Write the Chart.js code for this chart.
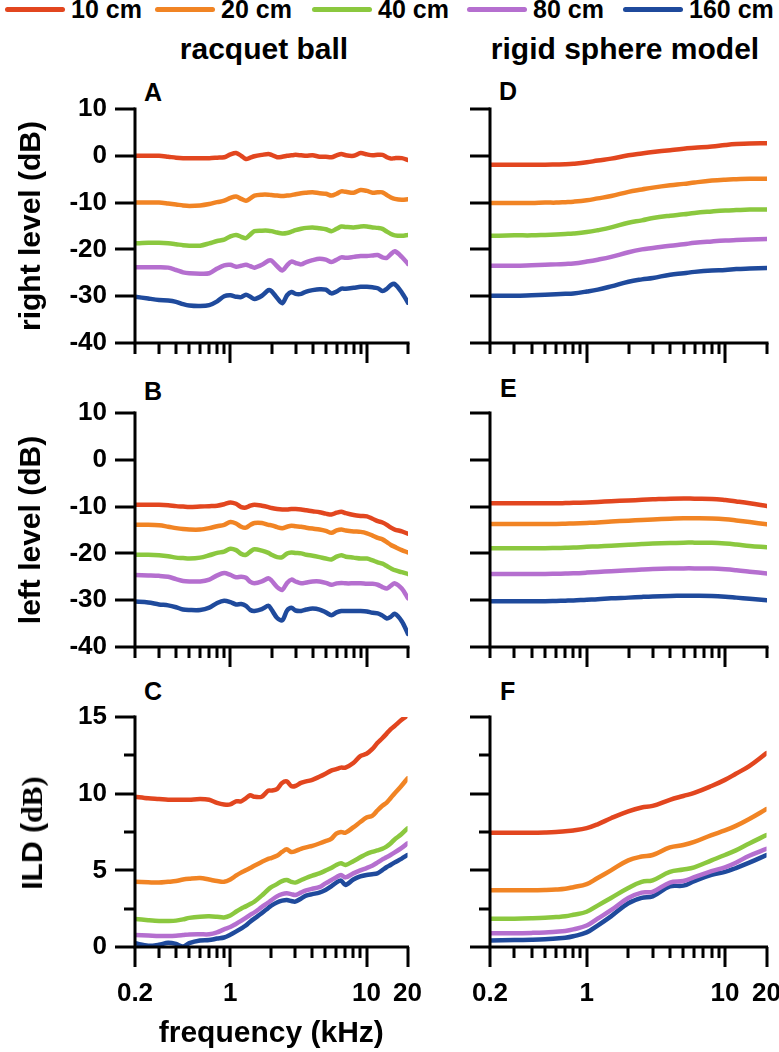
<!DOCTYPE html>
<html>
<head>
<meta charset="utf-8">
<title>Racquet ball vs rigid sphere model</title>
<script src="https://cdn.jsdelivr.net/npm/chart.js@4.4.0/dist/chart.umd.min.js"></script>
<style>
  body { margin: 0; background: #fff; }
  #page {
    position: relative; width: 779px; height: 1052px; overflow: hidden;
    font-family: "Liberation Sans", Arial, sans-serif; font-weight: bold; color: #000;
  }
  #page canvas { position: absolute; }
  .txt { position: absolute; white-space: nowrap; line-height: 1; }
  .col-title { font-size: 30px; text-align: center; top: 34px; }
  .panel-letter { font-size: 25px; }
  .legend-item { position: absolute; top: -3px; display: flex; align-items: center; font-size: 25px; line-height: 1; white-space: nowrap; }
  .legend-line { width: 60px; height: 5px; border-radius: 3px; margin-right: 6px; }
  .ild-title { font-size: 30px; transform: translate(-50%, -50%) rotate(-90deg); }
  .ild-title .serif { font-family: "Liberation Serif", "Times New Roman", serif; }
</style>
</head>
<body>
<div id="page">
  <div id="legend"></div>
  <div class="txt col-title" style="left:164px; width:200px;">racquet ball</div>
  <div class="txt col-title" style="left:475px; width:300px;">rigid sphere model</div>

  <div class="txt panel-letter" style="left:144px; top:80px;">A</div>
  <div class="txt panel-letter" style="left:499px; top:79px;">D</div>
  <div class="txt panel-letter" style="left:144px; top:379px;">B</div>
  <div class="txt panel-letter" style="left:500px; top:376px;">E</div>
  <div class="txt panel-letter" style="left:144px; top:679px;">C</div>
  <div class="txt panel-letter" style="left:500px; top:679px;">F</div>

  <canvas id="chartA" width="422" height="281" style="left:0; top:89px;"></canvas>
  <canvas id="chartD" width="351" height="281" style="left:430px; top:89px;"></canvas>
  <canvas id="chartB" width="422" height="281" style="left:0; top:393px;"></canvas>
  <canvas id="chartE" width="351" height="281" style="left:430px; top:393px;"></canvas>
  <canvas id="chartC" width="422" height="355" style="left:0; top:697px;"></canvas>
  <canvas id="chartF" width="351" height="355" style="left:430px; top:697px;"></canvas>

  <!-- ILD title uses a serif "dB" like the source figure -->
  <div class="txt ild-title" style="left:32px; top:833px;">ILD (<span class="serif">dB)</span></div>
</div>

<script>
/* ============================================
   DATA
   ============================================ */

// Series (source distance)
const seriesNames  = ['10 cm', '20 cm', '40 cm', '80 cm', '160 cm'];
const seriesColors = ['#E2461F', '#F18424', '#8BC83F', '#B56FCF', '#1F4A9C'];

// Frequencies (kHz) for measured and model curves
const rbFreq = [0.2, 0.25, 0.3, 0.35, 0.4, 0.45, 0.5, 0.6, 0.7, 0.8, 0.9, 1, 1.1, 1.2, 1.3, 1.4, 1.5, 1.7, 1.9, 2,
                2.2, 2.4, 2.6, 2.8, 3, 3.3, 3.6, 4, 4.5, 5, 5.5, 6, 6.5, 7, 8, 9, 10, 11, 12, 13, 14, 15, 16, 18, 20];
const smFreq = [0.2, 0.3, 0.4, 0.5, 0.6, 0.7, 0.8, 1, 1.2, 1.5, 2, 2.5, 3, 4, 5, 6, 8, 10, 12, 15, 20];

// Tick values
const freqTicks      = [0.2, 0.3, 0.4, 0.5, 0.6, 0.7, 0.8, 0.9, 1, 2, 3, 4, 5, 6, 7, 8, 9, 10, 20];
const freqTickLabels = [0.2, 1, 10, 20];
const levelTicks     = [-40, -30, -20, -10, 0, 10];
const ildTicks       = [0, 2.5, 5, 7.5, 10, 12.5, 15];
const ildTickLabels  = [0, 5, 10, 15];

// A: racquet ball, right level (dB)
const rightRb10  = [0, 0, 0, -0.2, -0.4, -0.5, -0.5, -0.5, -0.5, -0.4, -0.3, 0.3, 0.6, 0.0, -0.7, -0.4, -0.1, 0.2, 0.4, 0.2, -0.3, -0.2, 0.0, 0.1, 0.2, 0.1, 0.0, 0.1, -0.2, -0.2, -0.3, 0.1, 0.4, 0.1, 0.0, 0.6, 0.3, 0.1, 0.2, 0.2, -0.3, -0.6, -0.5, -0.5, -0.9];
const rightRb20  = [-10, -10, -10, -10.2, -10.4, -10.6, -10.7, -10.6, -10.3, -9.9, -9.6, -9.0, -8.7, -9.2, -9.6, -9.1, -8.5, -8.3, -8.3, -8.4, -8.5, -8.6, -8.5, -8.4, -8.2, -8.0, -7.9, -7.8, -8.0, -8.1, -8.5, -8.1, -7.6, -7.7, -7.9, -7.3, -7.5, -7.9, -7.8, -7.8, -8.4, -8.9, -9.2, -9.4, -9.3];
const rightRb40  = [-18.7, -18.6, -18.6, -18.7, -18.9, -19.1, -19.2, -19.2, -18.7, -18.2, -17.9, -17.2, -16.9, -17.3, -17.6, -16.8, -16.1, -16.0, -16.0, -16.1, -16.4, -16.6, -16.5, -16.2, -15.9, -15.6, -15.4, -15.3, -15.5, -15.7, -16.1, -15.6, -15.1, -15.2, -15.3, -15.1, -15.1, -15.3, -15.4, -15.6, -16.2, -16.7, -17.0, -17.1, -16.9];
const rightRb80  = [-23.8, -23.8, -23.8, -23.9, -24.4, -24.9, -25.1, -25.2, -25.1, -24.1, -23.4, -23.3, -23.7, -23.5, -23.3, -23.6, -23.9, -23.3, -22.4, -22.4, -23.6, -24.5, -23.4, -22.6, -22.9, -23.2, -22.7, -22.3, -22.0, -22.2, -22.7, -22.2, -21.7, -21.8, -21.6, -21.4, -21.4, -21.3, -21.2, -21.7, -21.8, -21.0, -20.4, -21.6, -23.1];
const rightRb160 = [-30.1, -30.5, -30.8, -30.9, -31.2, -31.7, -32.0, -32.1, -31.9, -31.1, -30.0, -29.8, -30.1, -30.2, -29.7, -30.1, -30.6, -29.9, -28.7, -28.9, -30.4, -31.5, -29.8, -29.1, -29.5, -29.5, -29.0, -28.7, -28.5, -28.6, -29.4, -29.0, -28.4, -28.4, -28.2, -28.0, -28.0, -28.1, -28.3, -28.9, -28.4, -27.6, -27.4, -29.2, -31.4];

// B: racquet ball, left level (dB)
const leftRb10  = [-9.6, -9.6, -9.6, -9.7, -9.9, -10.0, -10.1, -10.0, -9.9, -9.8, -9.5, -9.1, -9.4, -10.1, -10.2, -9.8, -9.6, -9.8, -10.1, -10.3, -10.5, -10.6, -10.6, -10.5, -10.5, -10.6, -10.8, -11.0, -11.2, -11.5, -11.7, -11.3, -11.1, -11.4, -11.8, -12.0, -12.1, -12.6, -13.1, -13.4, -13.9, -14.5, -14.9, -15.3, -15.8];
const leftRb20  = [-13.9, -13.9, -14.0, -14.3, -14.6, -14.8, -14.9, -14.9, -14.6, -14.2, -13.9, -13.3, -13.6, -14.3, -14.5, -13.9, -13.5, -13.5, -13.9, -14.0, -14.4, -14.6, -14.3, -14.1, -14.2, -14.3, -14.5, -14.7, -14.9, -15.2, -15.6, -15.1, -14.9, -15.1, -15.3, -15.4, -15.7, -16.2, -16.7, -17.0, -17.6, -18.2, -18.6, -19.3, -19.8];
const leftRb40  = [-20.3, -20.3, -20.4, -20.6, -20.9, -21.0, -21.1, -20.9, -20.4, -19.9, -19.6, -19.0, -19.3, -20.1, -20.3, -19.6, -19.1, -19.4, -19.9, -20.3, -20.8, -20.8, -20.0, -19.8, -19.9, -20.0, -20.3, -20.5, -20.8, -21.1, -21.3, -20.7, -20.4, -20.7, -20.9, -21.1, -21.1, -21.5, -21.9, -22.2, -22.7, -23.2, -23.6, -24.0, -24.4];
const leftRb80  = [-24.6, -24.7, -24.8, -25.0, -25.5, -25.9, -26.0, -26.0, -25.6, -24.7, -24.2, -24.6, -25.1, -25.0, -25.2, -26.1, -26.4, -26.0, -25.3, -25.8, -27.2, -27.8, -26.3, -25.6, -26.0, -26.4, -26.2, -26.0, -26.0, -26.3, -26.7, -26.4, -26.3, -26.4, -26.4, -26.4, -26.5, -26.5, -26.7, -27.2, -27.5, -26.9, -26.4, -27.5, -29.6];
const leftRb160 = [-30.3, -30.5, -30.9, -31.1, -31.5, -32.0, -32.1, -32.1, -31.6, -30.6, -30.1, -30.4, -30.9, -30.8, -31.2, -32.1, -32.3, -31.9, -31.2, -32.0, -33.8, -34.3, -32.2, -31.6, -32.2, -32.3, -32.0, -31.8, -32.0, -32.6, -33.2, -32.6, -32.3, -32.3, -32.3, -32.3, -32.4, -32.7, -32.8, -33.3, -33.9, -33.5, -32.9, -34.5, -37.2];

// C: racquet ball, ILD (dB)
const ildRb10  = [9.8, 9.7, 9.65, 9.6, 9.6, 9.6, 9.6, 9.65, 9.6, 9.4, 9.3, 9.3, 9.5, 9.5, 9.7, 9.9, 9.8, 9.8, 10.2, 10.2, 10.3, 10.7, 10.8, 10.5, 10.5, 10.7, 10.8, 10.9, 11.1, 11.3, 11.5, 11.6, 11.7, 11.7, 12.0, 12.45, 12.6, 12.9, 13.3, 13.6, 13.9, 14.2, 14.4, 14.8, 15.1];
const ildRb20  = [4.25, 4.22, 4.2, 4.25, 4.3, 4.4, 4.45, 4.5, 4.4, 4.3, 4.25, 4.4, 4.65, 4.85, 5.0, 5.15, 5.3, 5.55, 5.75, 5.8, 5.95, 6.2, 6.37, 6.2, 6.25, 6.4, 6.5, 6.6, 6.75, 6.9, 7.05, 7.4, 7.5, 7.45, 7.8, 8.15, 8.45, 8.55, 8.9, 9.2, 9.4, 9.7, 10.0, 10.5, 11.0];
const ildRb40  = [1.83, 1.75, 1.7, 1.7, 1.72, 1.8, 1.9, 1.98, 2.0, 1.97, 1.93, 2.05, 2.3, 2.5, 2.65, 2.8, 2.95, 3.35, 3.75, 3.9, 4.1, 4.3, 4.37, 4.25, 4.2, 4.35, 4.5, 4.65, 4.8, 4.98, 5.15, 5.35, 5.46, 5.35, 5.6, 5.85, 6.07, 6.2, 6.3, 6.4, 6.55, 6.75, 7.0, 7.35, 7.74];
const ildRb80  = [0.78, 0.75, 0.72, 0.72, 0.74, 0.78, 0.82, 0.83, 0.83, 0.95, 1.15, 1.3, 1.5, 1.7, 1.9, 2.1, 2.25, 2.6, 2.9, 3.05, 3.3, 3.45, 3.5, 3.45, 3.39, 3.55, 3.7, 3.8, 3.9, 4.15, 4.35, 4.55, 4.7, 4.54, 4.8, 5.0, 5.15, 5.3, 5.5, 5.7, 5.85, 6.0, 6.15, 6.45, 6.76];
const ildRb160 = [0.24, 0.08, 0.15, 0.28, 0.2, 0.03, 0.25, 0.42, 0.45, 0.55, 0.62, 0.8, 1.0, 1.2, 1.4, 1.65, 1.85, 2.2, 2.55, 2.7, 2.9, 3.02, 3.07, 3.0, 2.96, 3.15, 3.35, 3.45, 3.55, 3.72, 3.95, 4.2, 4.33, 4.04, 4.4, 4.6, 4.7, 4.75, 4.8, 5.0, 5.2, 5.35, 5.5, 5.75, 6.0];

// D: rigid sphere model, right level (dB)
const rightSm10  = [-1.9, -1.9, -1.9, -1.9, -1.85, -1.8, -1.7, -1.4, -1.0, -0.6, 0.1, 0.5, 0.8, 1.2, 1.5, 1.7, 2.0, 2.3, 2.5, 2.65, 2.7];
const rightSm20  = [-10.1, -10.1, -10.1, -10.0, -10.0, -9.9, -9.8, -9.5, -9.1, -8.6, -7.7, -7.2, -6.8, -6.3, -6.0, -5.7, -5.3, -5.1, -5.0, -4.9, -4.9];
const rightSm40  = [-17.1, -17.0, -17.0, -16.9, -16.8, -16.7, -16.6, -16.3, -15.9, -15.3, -14.3, -13.8, -13.3, -12.8, -12.5, -12.2, -11.9, -11.7, -11.6, -11.5, -11.5];
const rightSm80  = [-23.5, -23.5, -23.4, -23.3, -23.2, -23.1, -23.0, -22.6, -22.2, -21.6, -20.6, -20.0, -19.7, -19.2, -18.9, -18.6, -18.3, -18.1, -18.0, -17.9, -17.8];
const rightSm160 = [-29.9, -29.9, -29.8, -29.7, -29.6, -29.5, -29.4, -29.0, -28.6, -27.9, -26.9, -26.4, -26.1, -25.4, -25.1, -24.8, -24.5, -24.4, -24.2, -24.1, -24.0];

// E: rigid sphere model, left level (dB)
const leftSm10  = [-9.3, -9.3, -9.3, -9.3, -9.3, -9.25, -9.2, -9.1, -9.0, -8.85, -8.7, -8.55, -8.45, -8.3, -8.25, -8.3, -8.35, -8.6, -8.9, -9.3, -9.9];
const leftSm20  = [-13.7, -13.7, -13.7, -13.7, -13.7, -13.65, -13.6, -13.5, -13.4, -13.2, -13.0, -12.85, -12.75, -12.6, -12.5, -12.5, -12.55, -12.7, -12.95, -13.3, -13.8];
const leftSm40  = [-18.9, -18.9, -18.9, -18.9, -18.85, -18.8, -18.75, -18.6, -18.5, -18.35, -18.15, -18.0, -17.9, -17.8, -17.7, -17.7, -17.75, -17.9, -18.1, -18.4, -18.7];
const leftSm80  = [-24.4, -24.4, -24.4, -24.4, -24.35, -24.3, -24.25, -24.1, -23.95, -23.8, -23.6, -23.45, -23.35, -23.25, -23.2, -23.2, -23.25, -23.4, -23.6, -23.9, -24.3];
const leftSm160 = [-30.2, -30.2, -30.2, -30.2, -30.15, -30.1, -30.05, -29.9, -29.8, -29.6, -29.45, -29.3, -29.2, -29.1, -29.05, -29.05, -29.1, -29.25, -29.45, -29.7, -30.0];

// F: rigid sphere model, ILD (dB)
const ildSm10  = [7.45, 7.45, 7.45, 7.47, 7.5, 7.55, 7.6, 7.75, 8.0, 8.4, 8.85, 9.1, 9.2, 9.6, 9.85, 10.05, 10.5, 10.9, 11.3, 11.8, 12.65];
const ildSm20  = [3.7, 3.7, 3.7, 3.72, 3.75, 3.8, 3.9, 4.1, 4.5, 5.0, 5.65, 5.9, 6.0, 6.5, 6.65, 6.85, 7.3, 7.6, 7.9, 8.35, 9.0];
const ildSm40  = [1.85, 1.85, 1.87, 1.9, 1.95, 2.0, 2.1, 2.3, 2.7, 3.2, 3.85, 4.25, 4.35, 4.9, 5.05, 5.2, 5.65, 6.0, 6.3, 6.75, 7.3];
const ildSm80  = [0.9, 0.9, 0.92, 0.95, 1.0, 1.05, 1.15, 1.4, 1.85, 2.4, 3.2, 3.55, 3.6, 4.2, 4.3, 4.55, 4.95, 5.2, 5.5, 5.95, 6.4];
const ildSm160 = [0.43, 0.45, 0.47, 0.5, 0.55, 0.6, 0.7, 0.95, 1.4, 2.0, 2.85, 3.2, 3.3, 3.95, 4.0, 4.3, 4.7, 4.9, 5.15, 5.5, 6.0];

/* ============================================
   LEGEND (HTML)
   ============================================ */
const legendLeft = [5, 155, 312, 467, 623];
const legendEl = document.getElementById('legend');
seriesNames.forEach((name, i) => {
  const item = document.createElement('div');
  item.className = 'legend-item';
  item.style.left = legendLeft[i] + 'px';
  item.innerHTML = '<span class="legend-line" style="background:' + seriesColors[i] + '"></span><span>' + name + '</span>';
  legendEl.appendChild(item);
});

/* ============================================
   AXIS LINES + TICK MARKS PLUGIN
   ============================================ */
const axisMarks = {
  id: 'axisMarks',
  afterDraw(chart, args, opts) {
    const ctx = chart.ctx;
    const area = chart.chartArea;
    const xs = chart.scales.x;
    const ys = chart.scales.y;
    ctx.save();
    ctx.strokeStyle = '#000';
    ctx.lineWidth = 3;
    ctx.lineCap = 'square';

    // axis lines
    ctx.beginPath();
    ctx.moveTo(area.left, area.top);
    ctx.lineTo(area.left, area.bottom);
    ctx.lineTo(area.right, area.bottom);
    ctx.stroke();

    ctx.lineCap = 'butt';
    // x ticks (downwards)
    xs.ticks.forEach(t => {
      const px = Math.round(xs.getPixelForValue(t.value));
      const len = opts.xMajor.includes(t.value) ? 20 : 11;
      ctx.beginPath();
      ctx.moveTo(px, area.bottom);
      ctx.lineTo(px, area.bottom + len);
      ctx.stroke();
    });
    // y ticks (leftwards)
    ys.ticks.forEach(t => {
      const py = Math.round(ys.getPixelForValue(t.value));
      const len = opts.yMajor.includes(t.value) ? 20 : 11;
      ctx.beginPath();
      ctx.moveTo(area.left - len, py);
      ctx.lineTo(area.left, py);
      ctx.stroke();
    });
    ctx.restore();
  }
};

/* ============================================
   PANEL FACTORY
   ============================================ */
const tickFont  = { family: '"Liberation Sans", Arial, sans-serif', size: 26, weight: 'bold', lineHeight: 1.2 };
const titleFont = { family: '"Liberation Sans", Arial, sans-serif', size: 30, weight: 'bold', lineHeight: 1.2 };

function drawPanel(canvasId, cfg) {
  const ctx = document.getElementById(canvasId).getContext('2d');

  const datasets = cfg.series.map((vals, i) => ({
    label: seriesNames[i],
    data: vals.map((v, k) => ({ x: cfg.freq[k], y: v })),
    borderColor: seriesColors[i],
    backgroundColor: seriesColors[i],
    borderWidth: 4.5,
    pointRadius: 0,
    tension: cfg.tension,
    borderCapStyle: 'round',
    borderJoinStyle: 'round',
    fill: false
  }));

  return new Chart(ctx, {
    type: 'line',
    data: { datasets: datasets },
    options: {
      responsive: false,
      animation: false,
      events: [],
      devicePixelRatio: 1,
      layout: {
        autoPadding: false,
        padding: { top: 20, right: 14, left: 0, bottom: 0 }
      },
      plugins: {
        legend: { display: false },
        tooltip: { enabled: false },
        axisMarks: { xMajor: cfg.xMajor, yMajor: cfg.yMajor }
      },
      scales: {
        x: {
          type: 'logarithmic',
          min: 0.2,
          max: 20,
          afterBuildTicks: scale => { scale.ticks = freqTicks.map(v => ({ value: v })); },
          afterFit: scale => { scale.height = cfg.xAxisHeight; },
          // tick marks are drawn by the plugin; tickLength only spaces the labels
          grid: { display: false, drawTicks: true, tickLength: 31 },
          border: { display: false },
          ticks: {
            autoSkip: false,
            maxRotation: 0,
            padding: 0,
            color: '#000',
            font: tickFont,
            callback: v => (cfg.showXLabels && freqTickLabels.includes(v)) ? String(v) : ''
          },
          title: {
            display: !!cfg.xTitle,
            text: cfg.xTitle || '',
            color: '#000',
            font: titleFont,
            padding: { top: 0, bottom: 0 }
          }
        },
        y: {
          type: 'linear',
          min: cfg.yMin,
          max: cfg.yMax,
          afterBuildTicks: scale => { scale.ticks = cfg.yTicks.map(v => ({ value: v })); },
          afterFit: scale => { scale.width = cfg.yAxisWidth; },
          grid: { display: false, drawTicks: true, tickLength: 26 },
          border: { display: false },
          ticks: {
            autoSkip: false,
            padding: 2,
            color: '#000',
            font: tickFont,
            callback: v => (cfg.showYLabels && cfg.yMajor.includes(v)) ? String(v) : ''
          },
          title: {
            display: !!cfg.yTitle,
            text: cfg.yTitle || '',
            color: '#000',
            font: titleFont,
            padding: { top: 14, bottom: 0 }
          }
        }
      }
    },
    plugins: [axisMarks]
  });
}

/* ============================================
   BUILD THE SIX PANELS
   ============================================ */
const leftCol  = { yAxisWidth: 135, showYLabels: true };
const rightCol = { yAxisWidth: 60, showYLabels: false };
const upperRow = { xAxisHeight: 27, showXLabels: false, xMajor: [1, 10] };
const lowerRow = { xAxisHeight: 105, showXLabels: true, xMajor: [0.2, 1, 10, 20] };
const levelAxis = { yMin: -40, yMax: 10, yTicks: levelTicks, yMajor: levelTicks };
const ildAxis   = { yMin: 0, yMax: 15, yTicks: ildTicks, yMajor: ildTickLabels };

drawPanel('chartA', Object.assign({}, leftCol, upperRow, levelAxis, {
  freq: rbFreq, tension: 0.3, yTitle: 'right level (dB)',
  series: [rightRb10, rightRb20, rightRb40, rightRb80, rightRb160]
}));
drawPanel('chartB', Object.assign({}, leftCol, upperRow, levelAxis, {
  freq: rbFreq, tension: 0.3, yTitle: 'left level (dB)',
  series: [leftRb10, leftRb20, leftRb40, leftRb80, leftRb160]
}));
// ILD axis title is the HTML element above (mixed fonts)
drawPanel('chartC', Object.assign({}, leftCol, lowerRow, ildAxis, {
  freq: rbFreq, tension: 0.3, xTitle: 'frequency (kHz)',
  series: [ildRb10, ildRb20, ildRb40, ildRb80, ildRb160]
}));
drawPanel('chartD', Object.assign({}, rightCol, upperRow, levelAxis, {
  freq: smFreq, tension: 0.4,
  series: [rightSm10, rightSm20, rightSm40, rightSm80, rightSm160]
}));
drawPanel('chartE', Object.assign({}, rightCol, upperRow, levelAxis, {
  freq: smFreq, tension: 0.4,
  series: [leftSm10, leftSm20, leftSm40, leftSm80, leftSm160]
}));
drawPanel('chartF', Object.assign({}, rightCol, lowerRow, ildAxis, {
  freq: smFreq, tension: 0.4,
  series: [ildSm10, ildSm20, ildSm40, ildSm80, ildSm160]
}));
</script>
</body>
</html>
